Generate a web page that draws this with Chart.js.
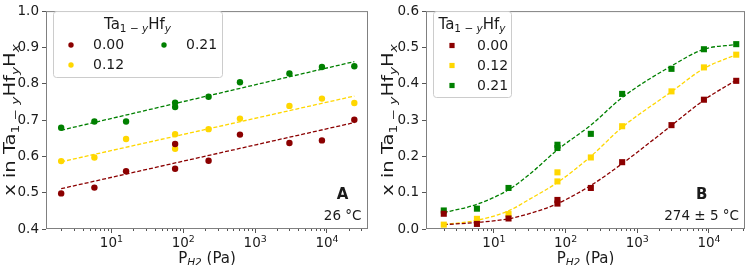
<!DOCTYPE html>
<html>
<head>
<meta charset="utf-8">
<script src="https://cdn.jsdelivr.net/npm/chart.js@4.4.1/dist/chart.umd.min.js"></script>
<style>
  body { margin: 0; background: #fff; }
  #wrap { position: relative; width: 750px; height: 265px; }
  canvas { position: absolute; top: 0; }
</style>
</head>
<body>
<div id="wrap">
  <canvas id="panelA" width="375" height="265" style="left:0"></canvas>
  <canvas id="panelB" width="375" height="265" style="left:375px"></canvas>
</div>
<script>
// ---- data ----
const compositions = ['0.00', '0.12', '0.21'];
const seriesColors = ['#8b0000', '#ffd700', '#008000'];
const pressures = [2, 5.8, 16, 77, 77, 225, 615, 3000, 8500, 24000];   // Pa
const decadeTicks = [10, 100, 1000, 10000];

// panel A, 26 °C
const roomTemp000 = [0.498, 0.514, 0.559, 0.634, 0.566, 0.588, 0.660, 0.637, 0.644, 0.701];
const roomTemp012 = [0.587, 0.597, 0.648, 0.661, 0.621, 0.675, 0.704, 0.739, 0.759, 0.747];
const roomTemp021 = [0.679, 0.696, 0.696, 0.748, 0.736, 0.764, 0.804, 0.828, 0.846, 0.848];
const roomFitPressures = [2, 24000];
const roomFit000 = [0.511, 0.693];
const roomFit012 = [0.585, 0.766];
const roomFit021 = [0.672, 0.861];
const roomTicksY = [0.4, 0.5, 0.6, 0.7, 0.8, 0.9, 1.0];

// panel B, 274 ± 5 °C
const hot000 = [0.042, 0.014, 0.029, 0.080, 0.070, 0.113, 0.184, 0.286, 0.356, 0.408];
const hot012 = [0.012, 0.028, 0.041, 0.156, 0.131, 0.197, 0.283, 0.379, 0.445, 0.480];
const hot021 = [0.051, 0.056, 0.113, 0.232, 0.223, 0.262, 0.372, 0.441, 0.495, 0.509];
const hotFitPressures = [2, 5.8, 16, 32, 77, 225, 615, 3000, 8500, 24000];
const hotFit000 = [0.012, 0.018, 0.028, 0.043, 0.070, 0.120, 0.180, 0.285, 0.355, 0.410];
const hotFit012 = [0.012, 0.024, 0.050, 0.083, 0.128, 0.200, 0.280, 0.378, 0.442, 0.480];
const hotFit021 = [0.045, 0.068, 0.108, 0.152, 0.218, 0.286, 0.362, 0.449, 0.495, 0.508];
const hotTicksY = [0.0, 0.1, 0.2, 0.3, 0.4, 0.5, 0.6];

// ---- styling ----
const FONT = '"DejaVu Sans", sans-serif';
const textColor = '#1a1a1a';
const frameColor = '#808080';
const tickColor = '#555';
const titleSize = 15;

function pairUp(xs, ys) {
  return xs.map((x, i) => ({ x: x, y: ys[i] }));
}

// text with sub/superscripts, y = baseline
function drawRich(ctx, segs, x, y, size, align, bold) {
  const fontFor = s => (s.it ? 'italic ' : '') + (bold ? 'bold ' : '') +
    ((s.sub || s.sup) ? size * 0.7 : size) + 'px ' + FONT;
  let total = 0;
  segs.forEach(s => { ctx.font = fontFor(s); total += ctx.measureText(s.t).width; });
  let cx = align === 'center' ? x - total / 2 : (align === 'right' ? x - total : x);
  ctx.textBaseline = 'alphabetic';
  ctx.textAlign = 'left';
  segs.forEach(s => {
    ctx.font = fontFor(s);
    const dy = s.sub ? size * 0.22 : (s.sup ? -size * 0.4 : 0);
    ctx.fillText(s.t, cx, y + dy);
    cx += ctx.measureText(s.t).width;
  });
}

const yTitleSegs = [{ t: 'x in Ta' }, { t: '1 \u2212 ', sub: 1 }, { t: 'y', sub: 1, it: 1 }, { t: 'Hf' },
  { t: 'y', sub: 1, it: 1 }, { t: 'H' }, { t: 'x', sub: 1, it: 1 }];
const xTitleSegs = [{ t: 'P' }, { t: 'H2', sub: 1, it: 1 }, { t: ' (Pa)' }];
const legendTitleSegs = [{ t: 'Ta' }, { t: '1 \u2212 ', sub: 1 }, { t: 'y', sub: 1, it: 1 }, { t: 'Hf' }, { t: 'y', sub: 1, it: 1 }];

const panelDecor = {
  id: 'panelDecor',
  afterDraw(chart, args, opts) {
    const ctx = chart.ctx;
    const area = chart.chartArea;
    const xs = chart.scales.x;
    ctx.save();

    // frame
    ctx.strokeStyle = frameColor;
    ctx.lineWidth = 1;
    ctx.strokeRect(area.left + 0.5, area.top + 0.5, area.right - area.left - 1, area.bottom - area.top - 1);

    // minor log ticks
    ctx.strokeStyle = tickColor;
    ctx.beginPath();
    for (let k = 0; k <= 4; k++) {
      for (let m = 2; m <= 9; m++) {
        const v = m * Math.pow(10, k);
        if (v < xs.min || v > xs.max) continue;
        const px = Math.round(xs.getPixelForValue(v)) + 0.5;
        ctx.moveTo(px, area.bottom);
        ctx.lineTo(px, area.bottom + 2);
      }
    }
    ctx.stroke();

    ctx.fillStyle = textColor;
    // decade labels 10^n
    xs.ticks.forEach(t => {
      const exp = Math.round(Math.log10(t.value));
      drawRich(ctx, [{ t: '10' }, { t: String(exp), sup: 1 }], xs.getPixelForValue(t.value), area.bottom + 18, 13.5, 'center');
    });

    // axis titles
    drawRich(ctx, xTitleSegs, (area.left + area.right) / 2, opts.xTitleY, titleSize, 'center');
    ctx.save();
    ctx.translate(opts.yTitleX, (area.top + area.bottom) / 2);
    ctx.rotate(-Math.PI / 2);
    ctx.scale(1.3, 1);
    drawRich(ctx, yTitleSegs, 0, titleSize * 0.36, titleSize, 'center');
    ctx.restore();

    // legend
    const lg = opts.legend;
    ctx.fillStyle = 'rgba(255,255,255,0.8)';
    ctx.strokeStyle = '#cccccc';
    ctx.beginPath();
    ctx.roundRect(lg.x + 0.5, lg.y + 0.5, lg.w, lg.h, 3);
    ctx.fill();
    ctx.stroke();
    ctx.fillStyle = textColor;
    drawRich(ctx, legendTitleSegs, lg.x + lg.w / 2, lg.titleY, titleSize, 'center');
    const pts = chart.data.datasets.filter(d => !d.showLine);
    pts.forEach((d, i) => {
      const pos = lg.items[i];
      ctx.fillStyle = d.backgroundColor;
      if (d.pointStyle === 'rect') {
        ctx.fillRect(pos[0] - 2.6, pos[1] - 2.6, 5.2, 5.2);
      } else {
        ctx.beginPath();
        ctx.arc(pos[0], pos[1], 2.7, 0, Math.PI * 2);
        ctx.fill();
      }
      ctx.fillStyle = textColor;
      ctx.font = '14px ' + FONT;
      ctx.textBaseline = 'middle';
      ctx.textAlign = 'left';
      ctx.fillText(d.label, pos[0] + lg.textDx, pos[1] + 0.5);
    });

    // panel letter and temperature
    const note = opts.note;
    ctx.font = '13.5px ' + FONT;
    const tw = ctx.measureText(note.temp).width;
    const right = area.right - note.dxRight;
    ctx.textAlign = 'right';
    ctx.textBaseline = 'middle';
    ctx.fillText(note.temp, right, area.bottom - 12.5);
    ctx.font = 'bold 15px ' + FONT;
    ctx.textAlign = 'center';
    ctx.fillText(note.letter, right - tw / 2, area.bottom - 34);
    ctx.restore();
  }
};

function buildPanel(canvasId, cfg) {
  const datasets = [];
  cfg.points.forEach((ys, i) => {
    datasets.push({
      label: compositions[i],
      data: pairUp(pressures, ys),
      showLine: false,
      pointStyle: cfg.marker,
      pointRadius: cfg.marker === 'rect' ? 4.3 : 3.2,
      pointHoverRadius: cfg.marker === 'rect' ? 4.3 : 3.2,
      pointBorderWidth: 0,
      backgroundColor: seriesColors[i],
      borderColor: seriesColors[i]
    });
  });
  cfg.fits.forEach((ys, i) => {
    datasets.push({
      label: 'fit ' + compositions[i],
      data: pairUp(cfg.fitX, ys),
      showLine: true,
      pointRadius: 0,
      borderColor: seriesColors[i],
      borderWidth: 1.3,
      borderDash: [4, 2],
      cubicInterpolationMode: 'monotone',
      fill: false
    });
  });

  return new Chart(document.getElementById(canvasId), {
    type: 'scatter',
    data: { datasets: datasets },
    options: {
      responsive: false,
      animation: false,
      devicePixelRatio: 1,
      layout: { padding: { top: 5, right: cfg.padRight, left: 0, bottom: 0 } },
      scales: {
        x: {
          type: 'logarithmic',
          min: cfg.xMin,
          max: cfg.xMax,
          afterBuildTicks: scale => { scale.ticks = decadeTicks.map(v => ({ value: v })); },
          afterFit: scale => { scale.height = 36; },
          ticks: {
            autoSkip: false, maxRotation: 0, padding: 2,
            font: { family: FONT, size: 13.5 },
            callback: () => ''   // drawn with superscripts by panelDecor
          },
          grid: { drawOnChartArea: false, tickLength: 4, color: tickColor },
          border: { display: false }
        },
        y: {
          min: cfg.yTicks[0],
          max: cfg.yTicks[cfg.yTicks.length - 1],
          afterBuildTicks: scale => { scale.ticks = cfg.yTicks.map(v => ({ value: v })); },
          afterFit: scale => { scale.width = cfg.yWidth; },
          ticks: {
            padding: 3, color: textColor,
            font: { family: FONT, size: 13.5 },
            callback: v => Number(v).toFixed(1)
          },
          grid: { drawOnChartArea: false, tickLength: 4, color: tickColor },
          border: { display: false }
        }
      },
      plugins: {
        legend: { display: false },
        tooltip: { enabled: false },
        panelDecor: {
          xTitleY: 263,
          yTitleX: cfg.yTitleX,
          legend: cfg.legend,
          note: cfg.note
        }
      }
    },
    plugins: [panelDecor]
  });
}

buildPanel('panelA', {
  marker: 'circle',
  points: [roomTemp000, roomTemp012, roomTemp021],
  fitX: roomFitPressures,
  fits: [roomFit000, roomFit012, roomFit021],
  yTicks: roomTicksY,
  xMin: 1.23, xMax: 37200,
  yWidth: 46, padRight: 7, yTitleX: 10,
  legend: { x: 53, y: 11, w: 169, h: 66, titleY: 29, textDx: 22,
            items: [[71, 45], [71, 65], [164, 45]] },
  note: { letter: 'A', temp: '26 \u00b0C', dxRight: 6.5 }
});

buildPanel('panelB', {
  marker: 'rect',
  points: [hot000, hot012, hot021],
  fitX: hotFitPressures,
  fits: [hotFit000, hotFit012, hotFit021],
  yTicks: hotTicksY,
  xMin: 1.13, xMax: 31800,
  yWidth: 51, padRight: 5, yTitleX: 13,
  legend: { x: 58, y: 11, w: 78, h: 86, titleY: 29, textDx: 25,
            items: [[77, 45.5], [77, 65.5], [77, 85.5]] },
  note: { letter: 'B', temp: '274 \u00b1 5 \u00b0C', dxRight: 6 }
});
</script>
</body>
</html>
